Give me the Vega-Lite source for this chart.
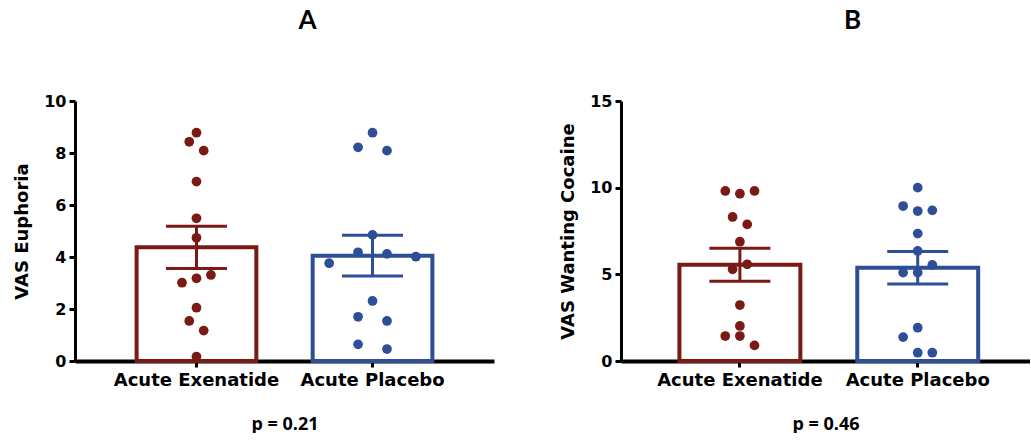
{
  "$schema": "https://vega.github.io/schema/vega-lite/v6.json",
  "padding": {"left": 13, "top": 8, "right": 0, "bottom": 0},
  "autosize": {"type": "pad"},
  "spacing": 65,
  "background": "white",
  "config": {
    "view": {"stroke": null},
    "axis": {
      "grid": false,
      "domainColor": "black",
      "tickColor": "black",
      "labelColor": "black",
      "titleColor": "black",
      "labelFont": "DejaVu Sans",
      "labelFontWeight": "bold",
      "titleFont": "DejaVu Sans",
      "titleFontWeight": "bold"
    },
    "axisX": {
      "domainWidth": 4,
      "tickWidth": 3,
      "tickSize": 6,
      "labelFontSize": 18,
      "labelAngle": 0,
      "labelPadding": 4,
      "titleFont": "Open Sans",
      "titleFontWeight": 700,
      "titleFontSize": 18,
      "titlePadding": 26
    },
    "axisY": {
      "domainWidth": 3,
      "tickWidth": 3,
      "tickSize": 6,
      "labelFontSize": 16,
      "labelPadding": 3,
      "titleFontSize": 18,
      "titlePadding": 12
    },
    "title": {"font": "Lato", "fontSize": 26, "fontWeight": "bold", "color": "black", "anchor": "middle"}
  },
  "datasets": {
    "euph": [
      {"group": "Acute Exenatide", "value": 8.78, "jitter": 0},
      {"group": "Acute Exenatide", "value": 8.43, "jitter": -0.5},
      {"group": "Acute Exenatide", "value": 8.09, "jitter": 0.5},
      {"group": "Acute Exenatide", "value": 6.90, "jitter": 0},
      {"group": "Acute Exenatide", "value": 5.49, "jitter": 0},
      {"group": "Acute Exenatide", "value": 4.74, "jitter": 0},
      {"group": "Acute Exenatide", "value": 3.01, "jitter": -1},
      {"group": "Acute Exenatide", "value": 3.18, "jitter": 0},
      {"group": "Acute Exenatide", "value": 3.31, "jitter": 1},
      {"group": "Acute Exenatide", "value": 2.05, "jitter": 0},
      {"group": "Acute Exenatide", "value": 1.54, "jitter": -0.5},
      {"group": "Acute Exenatide", "value": 1.17, "jitter": 0.5},
      {"group": "Acute Exenatide", "value": 0.17, "jitter": 0},
      {"group": "Acute Placebo", "value": 8.78, "jitter": 0},
      {"group": "Acute Placebo", "value": 8.22, "jitter": -1},
      {"group": "Acute Placebo", "value": 8.09, "jitter": 1},
      {"group": "Acute Placebo", "value": 4.85, "jitter": 0},
      {"group": "Acute Placebo", "value": 4.18, "jitter": -1},
      {"group": "Acute Placebo", "value": 4.12, "jitter": 1},
      {"group": "Acute Placebo", "value": 4.01, "jitter": 3},
      {"group": "Acute Placebo", "value": 3.76, "jitter": -3},
      {"group": "Acute Placebo", "value": 2.31, "jitter": 0},
      {"group": "Acute Placebo", "value": 1.70, "jitter": -1},
      {"group": "Acute Placebo", "value": 1.54, "jitter": 1},
      {"group": "Acute Placebo", "value": 0.64, "jitter": -1},
      {"group": "Acute Placebo", "value": 0.46, "jitter": 1}
    ],
    "want": [
      {"group": "Acute Exenatide", "value": 9.81, "jitter": -1},
      {"group": "Acute Exenatide", "value": 9.65, "jitter": 0},
      {"group": "Acute Exenatide", "value": 9.81, "jitter": 1},
      {"group": "Acute Exenatide", "value": 8.31, "jitter": -0.5},
      {"group": "Acute Exenatide", "value": 7.88, "jitter": 0.5},
      {"group": "Acute Exenatide", "value": 6.88, "jitter": 0},
      {"group": "Acute Exenatide", "value": 5.58, "jitter": 0.5},
      {"group": "Acute Exenatide", "value": 5.29, "jitter": -0.5},
      {"group": "Acute Exenatide", "value": 3.23, "jitter": 0},
      {"group": "Acute Exenatide", "value": 2.02, "jitter": 0},
      {"group": "Acute Exenatide", "value": 1.44, "jitter": -1},
      {"group": "Acute Exenatide", "value": 1.44, "jitter": 0},
      {"group": "Acute Exenatide", "value": 0.90, "jitter": 1},
      {"group": "Acute Placebo", "value": 10.0, "jitter": 0},
      {"group": "Acute Placebo", "value": 8.94, "jitter": -1},
      {"group": "Acute Placebo", "value": 8.65, "jitter": 0},
      {"group": "Acute Placebo", "value": 8.69, "jitter": 1},
      {"group": "Acute Placebo", "value": 7.35, "jitter": 0},
      {"group": "Acute Placebo", "value": 6.35, "jitter": 0},
      {"group": "Acute Placebo", "value": 5.54, "jitter": 1},
      {"group": "Acute Placebo", "value": 5.10, "jitter": -1},
      {"group": "Acute Placebo", "value": 5.10, "jitter": 0},
      {"group": "Acute Placebo", "value": 1.92, "jitter": 0},
      {"group": "Acute Placebo", "value": 1.38, "jitter": -1},
      {"group": "Acute Placebo", "value": 0.48, "jitter": 0},
      {"group": "Acute Placebo", "value": 0.48, "jitter": 1}
    ]
  },
  "hconcat": [
    {
      "width": 419,
      "height": 260,
      "data": {"name": "euph"},
      "title": {"text": "A", "offset": 59, "dx": 23},
      "encoding": {
        "x": {
          "field": "group", "type": "nominal",
          "sort": ["Acute Exenatide", "Acute Placebo"],
          "scale": {"paddingInner": 0.32, "paddingOuter": 0.35},
          "axis": {"title": "p = 0.21"}
        }
      },
      "resolve": {"scale": {"xOffset": "independent"}},
      "layer": [
        {
          "mark": {"type": "bar", "fill": "white", "strokeWidth": 4},
          "encoding": {
            "y": {"aggregate": "mean", "field": "value", "type": "quantitative", "scale": {"domain": [0, 10], "nice": false}, "axis": {"title": "VAS Euphoria", "values": [0, 2, 4, 6, 8, 10]}},
            "stroke": {"field": "group", "type": "nominal", "scale": {"domain": ["Acute Exenatide", "Acute Placebo"], "range": ["#7a1a14", "#2e4e98"]}, "legend": null}
          }
        },
        {
          "mark": {"type": "errorbar", "extent": "stderr", "ticks": {"size": 61, "thickness": 3, "opacity": 1}, "rule": {"strokeWidth": 3, "opacity": 1}},
          "encoding": {
            "y": {"field": "value", "type": "quantitative", "axis": {"title": "VAS Euphoria"}},
            "color": {"field": "group", "type": "nominal", "scale": {"domain": ["Acute Exenatide", "Acute Placebo"], "range": ["#7a1a14", "#2e4e98"]}, "legend": null}
          }
        },
        {
          "mark": {"type": "circle", "size": 95, "opacity": 1},
          "encoding": {
            "y": {"field": "value", "type": "quantitative", "axis": {"title": "VAS Euphoria"}},
            "xOffset": {"field": "jitter", "type": "quantitative", "scale": {"domain": [-4.14, 4.14]}},
            "color": {"field": "group", "type": "nominal", "scale": {"domain": ["Acute Exenatide", "Acute Placebo"], "range": ["#7a1a14", "#2e4e98"]}, "legend": null}
          }
        }
      ]
    },
    {
      "width": 409,
      "height": 260,
      "data": {"name": "want"},
      "title": {"text": "B", "offset": 59, "dx": 27},
      "encoding": {
        "x": {
          "field": "group", "type": "nominal",
          "sort": ["Acute Exenatide", "Acute Placebo"],
          "scale": {"paddingInner": 0.32, "paddingOuter": 0.31, "align": 0.53},
          "axis": {"title": "p = 0.46"}
        }
      },
      "resolve": {"scale": {"xOffset": "independent"}},
      "layer": [
        {
          "mark": {"type": "bar", "fill": "white", "strokeWidth": 4},
          "encoding": {
            "y": {"aggregate": "mean", "field": "value", "type": "quantitative", "scale": {"domain": [0, 15], "nice": false}, "axis": {"title": "VAS Wanting Cocaine", "values": [0, 5, 10, 15]}},
            "stroke": {"field": "group", "type": "nominal", "scale": {"domain": ["Acute Exenatide", "Acute Placebo"], "range": ["#7a1a14", "#2e4e98"]}, "legend": null}
          }
        },
        {
          "mark": {"type": "errorbar", "extent": "stderr", "ticks": {"size": 61, "thickness": 3, "opacity": 1}, "rule": {"strokeWidth": 3, "opacity": 1}},
          "encoding": {
            "y": {"field": "value", "type": "quantitative", "axis": {"title": "VAS Wanting Cocaine"}},
            "color": {"field": "group", "type": "nominal", "scale": {"domain": ["Acute Exenatide", "Acute Placebo"], "range": ["#7a1a14", "#2e4e98"]}, "legend": null}
          }
        },
        {
          "mark": {"type": "circle", "size": 95, "opacity": 1},
          "encoding": {
            "y": {"field": "value", "type": "quantitative", "axis": {"title": "VAS Wanting Cocaine"}},
            "xOffset": {"field": "jitter", "type": "quantitative", "scale": {"domain": [-4.14, 4.14]}},
            "color": {"field": "group", "type": "nominal", "scale": {"domain": ["Acute Exenatide", "Acute Placebo"], "range": ["#7a1a14", "#2e4e98"]}, "legend": null}
          }
        }
      ]
    }
  ]
}
